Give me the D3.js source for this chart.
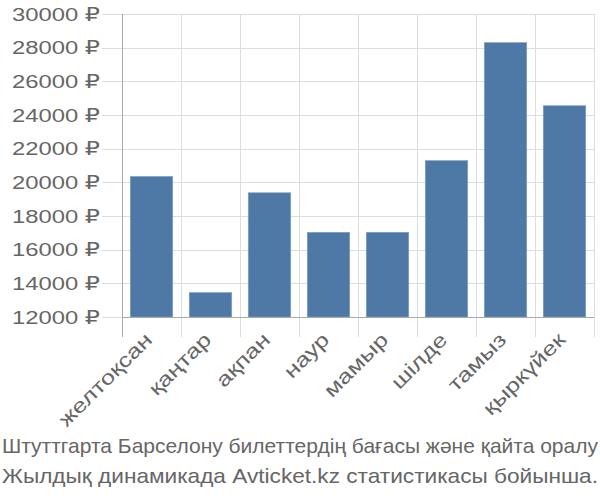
<!DOCTYPE html>
<html><head><meta charset="utf-8">
<script src="https://cdn.jsdelivr.net/npm/d3@7"></script>
<style>body{margin:0;background:#fff}svg{display:block}</style>
</head><body><svg id="c" width="600" height="500"></svg>
<script>
const categories = ["желтоқсан","қаңтар","ақпан","наур","мамыр","шілде","тамыз","қыркүйек"];
const values = [20350, 13450, 19380, 17030, 17030, 21290, 28300, 24550];
const yTicks = [12000,14000,16000,18000,20000,22000,24000,26000,28000,30000];
const captionLines = ["Штуттгарта Барселону билеттердің бағасы және қайта оралу","Жылдық динамикада Avticket.kz статистикасы бойынша."];

(function(){
const svg = d3.select("#c");
const pL = 122, pR = 594, pT = 14, pB = 317;
const x = d3.scaleBand().domain(categories).range([pL, pR]).paddingInner(0.28).paddingOuter(0.14);
const y = d3.scaleLinear().domain([12000, 30000]).range([pB, pT]);
const font = "'Liberation Sans', 'DejaVu Sans', sans-serif";
const step = x.step();
const stretch = 1.27;

svg.append("g").selectAll("line").data(yTicks).join("line")
  .attr("x1", pL - 20).attr("x2", pR).attr("y1", d => Math.round(y(d)) + 0.5).attr("y2", d => Math.round(y(d)) + 0.5)
  .attr("stroke", "#dddddd").attr("stroke-width", 1);
const bounds = categories.map((c, i) => pL + i * step).concat([pR]);
svg.append("g").selectAll("line").data(bounds.slice(1)).join("line")
  .attr("x1", d => Math.round(d) + 0.5).attr("x2", d => Math.round(d) + 0.5).attr("y1", pT).attr("y2", pB + 20)
  .attr("stroke", "#dddddd").attr("stroke-width", 1);

svg.append("g").selectAll("rect").data(values).join("rect")
  .attr("x", (d, i) => x(categories[i])).attr("width", x.bandwidth())
  .attr("y", d => y(d)).attr("height", d => pB - y(d))
  .attr("fill", "#4e79a7").attr("stroke", "#7f9fc4").attr("stroke-width", 0.6);

svg.append("line").attr("x1", pL + 0.5).attr("x2", pL + 0.5).attr("y1", pT).attr("y2", pB + 20).attr("stroke", "#aaaaaa").attr("stroke-width", 1);
svg.append("line").attr("x1", pL).attr("x2", pR).attr("y1", pB + 0.5).attr("y2", pB + 0.5).attr("stroke", "#aaaaaa").attr("stroke-width", 1);

const yl = svg.append("g").selectAll("text").data(yTicks).join("text")
  .attr("x", 100).attr("y", d => y(d)).attr("dy", "0.36em").attr("text-anchor", "end")
  .attr("font-family", font).attr("font-size", 18.7).attr("fill", "#666")
  .text(d => d + " ₽");
yl.each(function(){ this.setAttribute("textLength", 88); this.setAttribute("lengthAdjust", "spacingAndGlyphs"); });

const xl = svg.append("g").selectAll("text").data(categories).join("text")
  .attr("transform", d => `translate(${x(d) + x.bandwidth() / 2 + 2},${pB + 24}) rotate(-45)`)
  .attr("text-anchor", "end").attr("font-family", font).attr("font-size", 20).attr("fill", "#666")
  .text(d => d);
xl.each(function(){ const w = this.getComputedTextLength(); this.setAttribute("textLength", w * stretch); this.setAttribute("lengthAdjust", "spacingAndGlyphs"); });

const cl = svg.append("g").selectAll("text").data(captionLines).join("text")
  .attr("x", 300).attr("y", (d, i) => 453 + i * 30).attr("text-anchor", "middle")
  .attr("font-family", font).attr("font-size", 21).attr("fill", "#666")
  .text(d => d);
cl.each(function(){ this.setAttribute("textLength", 596); this.setAttribute("lengthAdjust", "spacingAndGlyphs"); });
})();
</script></body></html>
